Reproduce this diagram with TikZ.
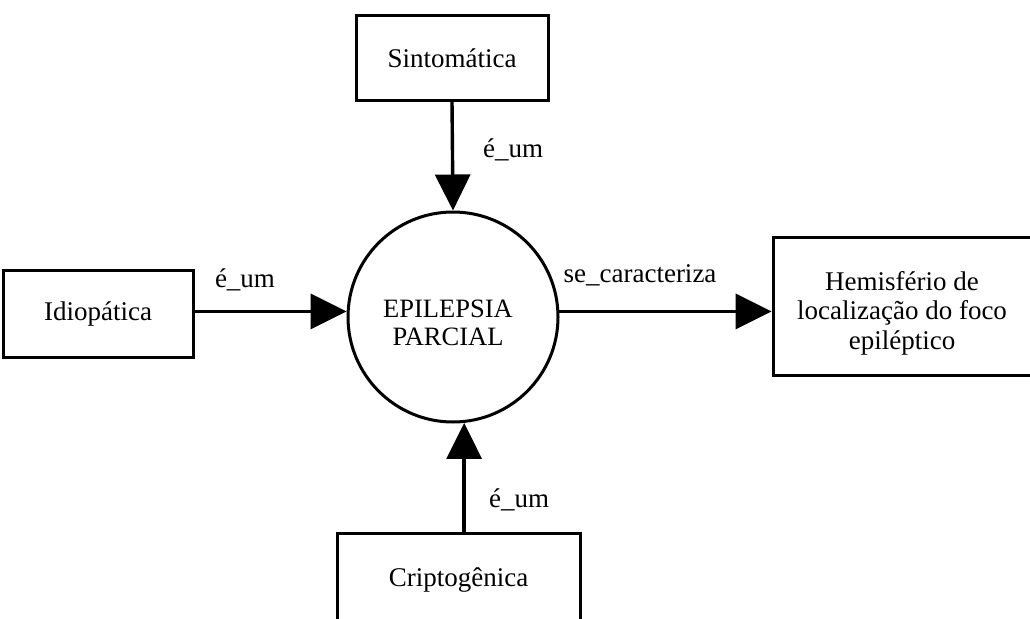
\documentclass[tikz,border=0pt]{standalone}
\usepackage{fontspec}
\setmainfont{Liberation Serif}
\usetikzlibrary{arrows.meta}
\begin{document}
\begin{tikzpicture}[x=1pt,y=-1pt,
  box/.style={draw,line width=3pt,rectangle,inner sep=0pt,align=center,
    font=\fontsize{27}{29.5}\selectfont},
  concept/.style={draw,line width=3pt,circle,minimum size=210pt,inner sep=0pt,
    align=center,font=\fontsize{26.5}{28}\selectfont},
  rel/.style={line width=3.4pt,-{Triangle[length=36pt,width=35pt]}},
  lbl/.style={inner sep=0pt,font=\fontsize{27}{30}\selectfont}]
  \useasboundingbox (0,0) rectangle (1030,618);

  % central concept (the tall strut on the first line sets the text a little lower)
  \node[concept] (epi) at (453,317) {\hspace*{-10pt}\rule{0pt}{30pt}EPILEPSIA\\\hspace*{-10pt}PARCIAL};

  % surrounding concepts
  \node[box,minimum width=192pt,minimum height=84pt] (sint) at (452,58) {Sintomática};
  \node[box,minimum width=190pt,minimum height=87pt] (idio) at (98,313.5) {Idiopática};
  \node[box,minimum width=258pt,minimum height=138pt] (hemi) at (902,306)
    {\rule{0pt}{33pt}Hemisfério de\\localização do foco\\epiléptico};
  \node[box,minimum width=243pt,minimum height=94pt] (crip) at (458.5,580) {Criptogênica};

  % relations
  \draw[rel] (sint.south) -- (epi.north);
  \draw[rel] (idio.east |- epi.177) -- (epi.177);
  \draw[rel] (epi.3) -- (epi.3 -| hemi.west);
  \draw[rel] (epi.-84.5 |- crip.north) -- (epi.-84.5);

  % relation labels
  \node[lbl] (l1) at (513,150) {é\_um};
  \node[lbl] (l2) at (245,280) {é\_um};
  \node[lbl] (l3) at (640,275) {se\_caracteriza};
  \node[lbl] (l4) at (519,500) {é\_um};
\end{tikzpicture}
\end{document}
